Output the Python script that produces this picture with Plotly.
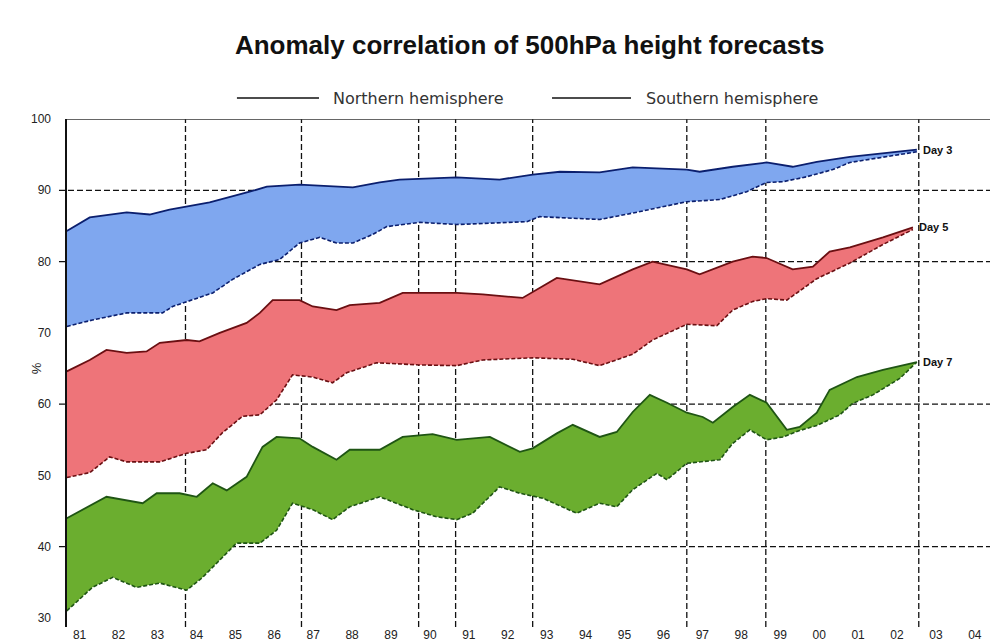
import plotly.graph_objects as go

# 12-month running mean anomaly correlation (%) of 500 hPa height forecasts
# Day 3
nh_d3_year = [1981.17, 1981.76, 1982.71, 1983.30, 1983.81, 1984.84, 1985.87, 1986.31, 1987.15,
              1988.52, 1989.21, 1989.72, 1991.19, 1992.29, 1993.14, 1993.84, 1994.86, 1995.71,
              1997.10, 1997.43, 1998.28, 1999.15, 1999.82, 2000.44, 2001.29, 2002.14, 2003.01]
nh_d3_acc = [84.3, 86.2, 86.9, 86.6, 87.3, 88.3, 89.8, 90.5, 90.8,
             90.4, 91.1, 91.5, 91.8, 91.5, 92.2, 92.6, 92.5, 93.2,
             92.9, 92.6, 93.3, 93.9, 93.3, 94.0, 94.7, 95.2, 95.7]
sh_d3_year = [1981.17, 1981.83, 1982.71, 1983.63, 1983.89, 1984.25, 1984.92, 1985.43, 1986.13,
              1986.64, 1987.15, 1987.67, 1988.10, 1988.52, 1989.03, 1989.39, 1990.24, 1991.19,
              1992.99, 1993.32, 1994.86, 1995.71, 1997.10, 1997.95, 1998.64, 1999.15, 1999.57,
              2000.18, 2000.85, 2001.29, 2002.14, 2003.01]
sh_d3_acc = [70.9, 71.8, 72.8, 72.8, 73.7, 74.4, 75.6, 77.5, 79.6,
             80.3, 82.6, 83.4, 82.6, 82.6, 83.8, 84.9, 85.5, 85.2,
             85.6, 86.3, 85.9, 86.8, 88.4, 88.7, 89.8, 91.1, 91.2,
             91.9, 92.9, 93.9, 94.6, 95.4]

# Day 5
nh_d5_year = [1981.17, 1981.76, 1982.19, 1982.71, 1983.22, 1983.56, 1984.25, 1984.58, 1985.10,
              1985.79, 1986.13, 1986.46, 1987.15, 1987.49, 1988.10, 1988.44, 1989.21, 1989.80,
              1991.19, 1991.86, 1992.88, 1993.76, 1994.86, 1995.71, 1996.22, 1997.10, 1997.43,
              1998.28, 1998.79, 1999.15, 1999.82, 2000.34, 2000.77, 2001.29, 2002.14, 2002.91]
nh_d5_acc = [64.6, 66.2, 67.6, 67.2, 67.4, 68.6, 69.0, 68.8, 70.0,
             71.4, 72.8, 74.6, 74.6, 73.7, 73.2, 73.9, 74.2, 75.6,
             75.6, 75.4, 74.9, 77.7, 76.8, 78.9, 80.0, 78.9, 78.2,
             80.0, 80.7, 80.5, 78.9, 79.3, 81.4, 82.0, 83.4, 84.8]
sh_d5_year = [1981.17, 1981.76, 1982.27, 1982.71, 1983.56, 1984.25, 1984.76, 1985.17, 1985.69,
              1986.13, 1986.56, 1986.97, 1987.49, 1988.00, 1988.36, 1989.13, 1990.24, 1991.19,
              1991.86, 1993.14, 1994.17, 1994.86, 1995.71, 1996.22, 1997.10, 1997.87, 1998.28,
              1998.79, 1999.15, 1999.67, 2000.44, 2001.29, 2002.14, 2002.91]
sh_d5_acc = [49.7, 50.4, 52.6, 51.9, 51.9, 53.1, 53.6, 56.0, 58.3,
             58.5, 60.6, 64.1, 63.8, 63.0, 64.4, 65.8, 65.5, 65.4,
             66.2, 66.5, 66.3, 65.4, 67.0, 69.0, 71.2, 71.0, 73.2,
             74.4, 74.8, 74.6, 77.6, 79.8, 82.4, 84.5]

# Day 7
nh_d7_year = [1981.17, 1982.19, 1983.12, 1983.48, 1984.07, 1984.51, 1984.92, 1985.28, 1985.79,
              1986.20, 1986.56, 1987.15, 1987.49, 1988.10, 1988.44, 1989.21, 1989.80, 1990.57,
              1991.19, 1992.04, 1992.81, 1993.14, 1993.76, 1994.17, 1994.86, 1995.30, 1995.71,
              1996.15, 1996.59, 1997.10, 1997.51, 1997.77, 1998.28, 1998.72, 1999.15, 1999.67,
              2000.00, 2000.44, 2000.77, 2001.47, 2002.14, 2003.01]
nh_d7_acc = [44.0, 47.0, 46.1, 47.5, 47.5, 47.0, 48.9, 47.9, 49.8,
             54.0, 55.4, 55.2, 54.0, 52.2, 53.6, 53.6, 55.4, 55.8,
             55.0, 55.4, 53.3, 53.8, 55.9, 57.1, 55.4, 56.1, 58.9,
             61.3, 60.2, 58.8, 58.2, 57.4, 59.6, 61.3, 60.2, 56.4,
             56.8, 58.8, 62.0, 63.8, 64.8, 65.9]
sh_d7_year = [1981.17, 1981.83, 1982.35, 1982.96, 1983.56, 1984.25, 1984.66, 1985.10, 1985.53,
              1986.13, 1986.56, 1986.97, 1987.49, 1988.00, 1988.44, 1989.21, 1990.06, 1990.67,
              1991.19, 1991.60, 1992.29, 1992.81, 1993.40, 1994.27, 1994.86, 1995.30, 1995.71,
              1996.33, 1996.59, 1997.10, 1997.95, 1998.28, 1998.72, 1999.15, 1999.57, 2000.00,
              2000.44, 2001.03, 2001.36, 2001.88, 2002.57, 2003.01]
sh_d7_acc = [31.0, 34.3, 35.7, 34.3, 34.9, 33.9, 35.7, 38.1, 40.5,
             40.5, 42.3, 46.1, 45.2, 43.8, 45.6, 47.0, 45.2, 44.2,
             43.8, 44.7, 48.4, 47.5, 46.8, 44.7, 46.1, 45.6, 48.0,
             50.3, 49.4, 51.7, 52.2, 54.5, 56.4, 55.0, 55.4, 56.3,
             57.0, 58.5, 60.1, 61.3, 63.6, 65.9]

# Dates of the main forecasting-system changes (dashed verticals)
system_changes = [1984.22, 1987.20, 1990.21, 1991.16, 1993.14, 1997.10, 1999.13, 2003.06]

year_ticks = list(range(1981, 2005))
year_labels = [f"{y % 100:02d}" for y in year_ticks]
acc_ticks = [30, 40, 50, 60, 70, 80, 90, 100]
acc_grid = [40, 60, 80, 90]

bands = [
    ("Day 3", nh_d3_year, nh_d3_acc, sh_d3_year, sh_d3_acc, "#7fa7ef", "#0b1f6e"),
    ("Day 5", nh_d5_year, nh_d5_acc, sh_d5_year, sh_d5_acc, "#ee7479", "#6a0f12"),
    ("Day 7", nh_d7_year, nh_d7_acc, sh_d7_year, sh_d7_acc, "#6bae2f", "#1f5514"),
]

X0, X1 = 1981.15, 2004.89
fig = go.Figure()

for name, nx, ny, sx, sy, fill, edge in bands:
    fig.add_trace(go.Scatter(
        x=nx + sx[::-1], y=ny + sy[::-1], fill="toself", fillcolor=fill,
        mode="lines", line=dict(width=0), hoverinfo="skip", showlegend=False))
    fig.add_trace(go.Scatter(
        x=sx, y=sy, mode="lines", line=dict(color=edge, width=1.6, dash="4px,2px"),
        name=f"{name} Southern hemisphere", showlegend=False))
    fig.add_trace(go.Scatter(
        x=nx, y=ny, mode="lines", line=dict(color=edge, width=1.8),
        name=f"{name} Northern hemisphere", showlegend=False))
    fig.add_annotation(x=nx[-1] + 0.1, y=ny[-1], text=f"<b>{name}</b>", showarrow=False,
                       xanchor="left", yanchor="middle",
                       font=dict(family="Liberation Sans", size=11, color="#111"))

shapes = []
for v in acc_grid:
    shapes.append(dict(type="line", xref="paper", yref="y", x0=-0.0076, x1=1, y0=v, y1=v,
                       line=dict(color="#111", width=1.3, dash="6px,3px"), layer="below"))
for d in system_changes:
    shapes.append(dict(type="line", xref="x", yref="paper", x0=d, x1=d, y0=-0.018, y1=1,
                       line=dict(color="#111", width=1.3, dash="6px,3px"), layer="below"))
# top frame line and left axis
shapes.append(dict(type="line", xref="paper", yref="y", x0=0, x1=1, y0=100, y1=100,
                   line=dict(color="#333", width=1.5)))
shapes.append(dict(type="line", xref="paper", yref="paper", x0=0, x1=0, y0=-0.018, y1=1,
                   line=dict(color="#111", width=2)))

# legend keys
legend_items = [("Northern hemisphere", 0.185, 0.2738, 0.2868),
                ("Southern hemisphere", 0.526, 0.6115, 0.6255)]
for label, lx0, lx1, tx in legend_items:
    shapes.append(dict(type="line", xref="paper", yref="paper", x0=lx0, x1=lx1,
                       y0=1.042, y1=1.042, line=dict(color="#111", width=1.6)))
    fig.add_annotation(xref="paper", yref="paper", x=tx, y=1.042, text=label,
                       showarrow=False, xanchor="left", yanchor="middle",
                       font=dict(family="DejaVu Sans", size=16, color="#333"))

fig.add_annotation(xref="paper", yref="paper", x=-0.042, y=0.5, text="%", textangle=-90,
                   showarrow=False, font=dict(family="Liberation Sans", size=13, color="#222"))

fig.update_layout(
    width=990, height=643,
    margin=dict(l=66, r=0, t=119, b=25),
    paper_bgcolor="white", plot_bgcolor="white",
    title=dict(text="<b>Anomaly correlation of 500hPa height forecasts</b>",
               x=0.535, xanchor="center", y=1 - 45 / 643, yanchor="middle",
               font=dict(family="Liberation Sans", size=26, color="#111")),
    shapes=shapes,
    showlegend=False,
)
fig.update_xaxes(range=[X0, X1], tickvals=[y + 0.5 for y in year_ticks], ticktext=year_labels,
                 showgrid=False, zeroline=False, showline=False, ticks="",
                 ticklabelstandoff=8,
                 tickfont=dict(family="Liberation Sans", size=12, color="#222"))
fig.update_yaxes(range=[30, 100], tickvals=acc_ticks, showgrid=False, zeroline=False,
                 showline=False, ticks="", ticklabelstandoff=14,
                 tickfont=dict(family="Liberation Sans", size=12, color="#222"))

fig.write_html("out.html")
